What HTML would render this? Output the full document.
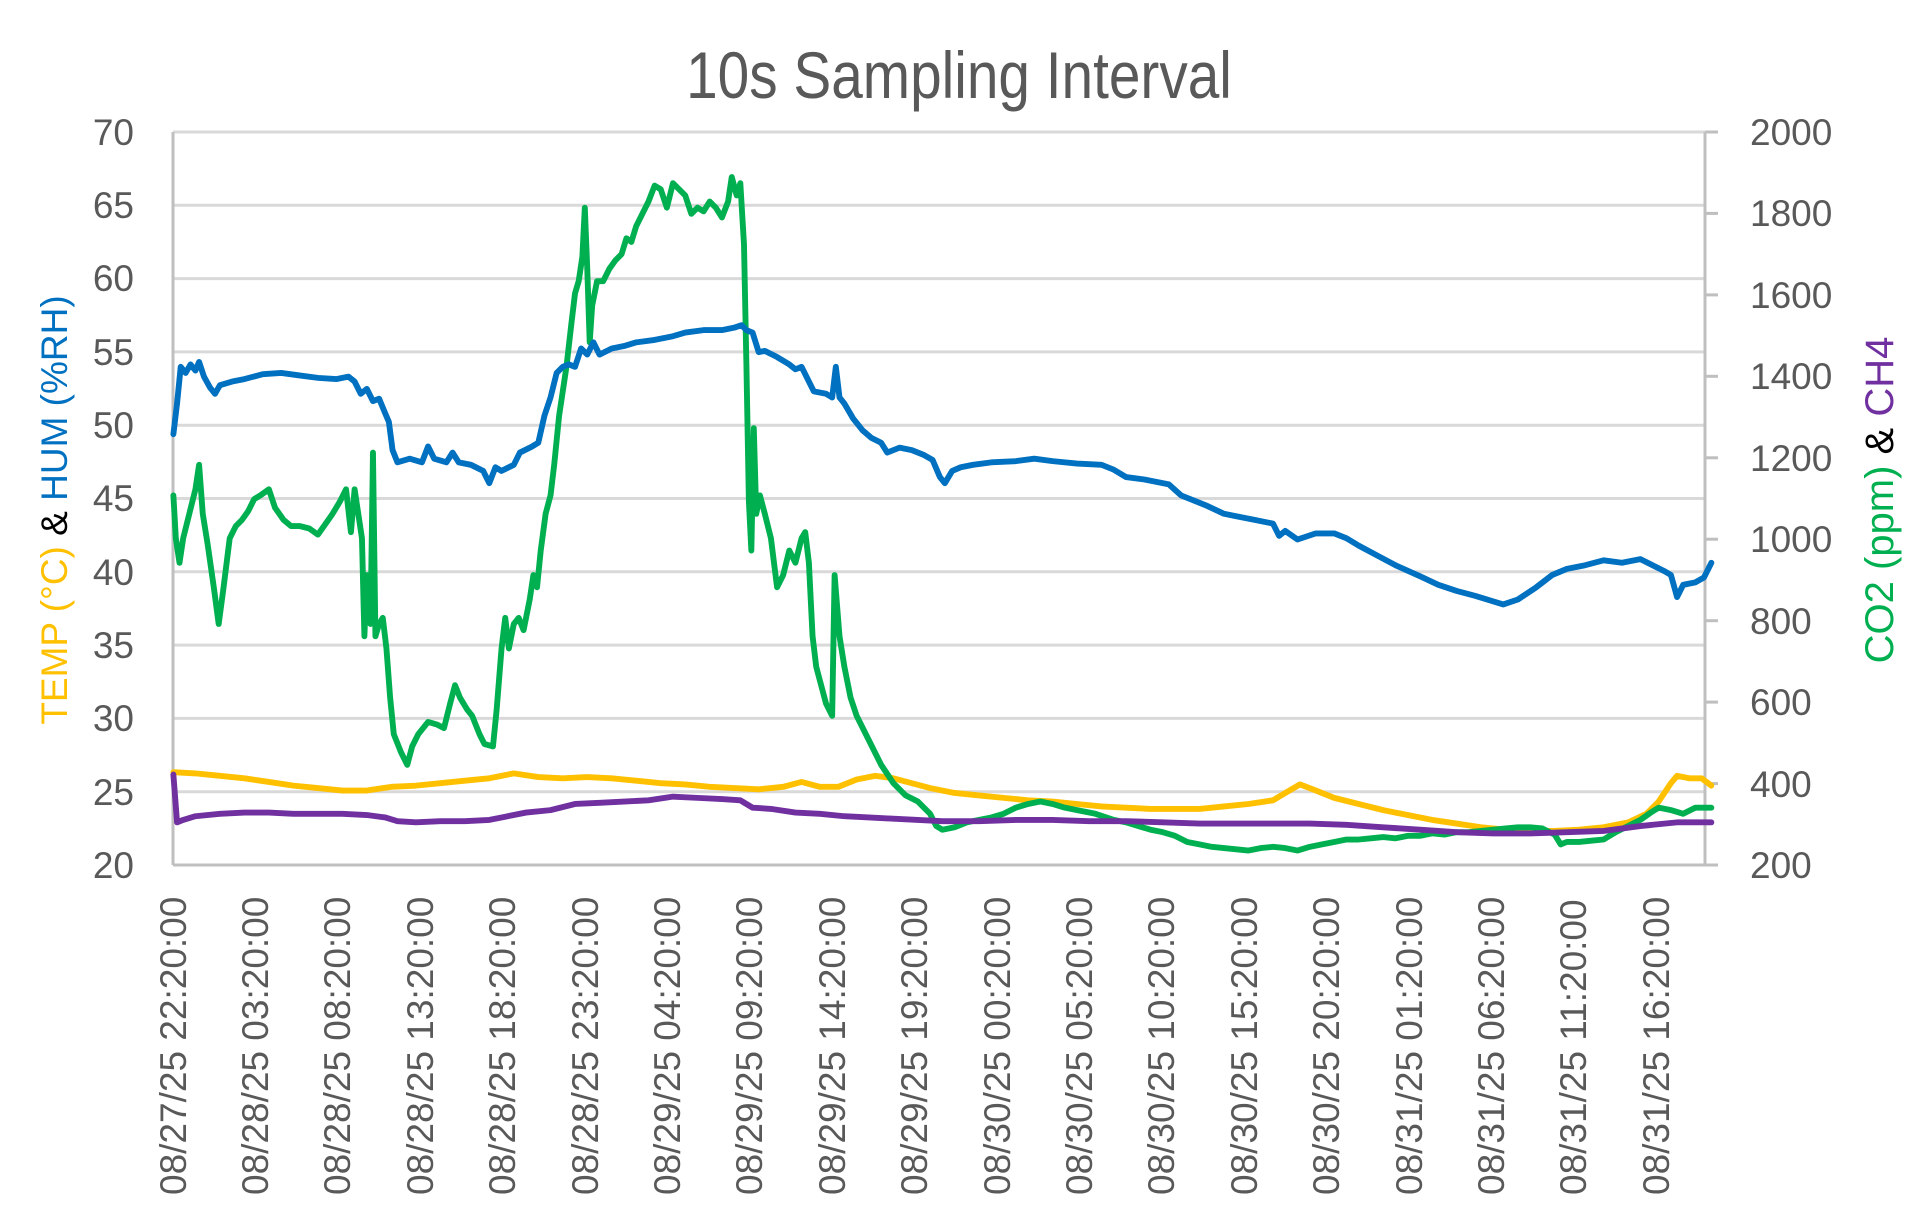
<!DOCTYPE html>
<html><head><meta charset="utf-8"><style>
html,body{margin:0;padding:0;background:#fff;}
svg{display:block;}
text{font-family:"Liberation Sans",sans-serif;fill:#595959;}
</style></head><body>
<svg width="1911" height="1223" viewBox="0 0 1911 1223" xmlns="http://www.w3.org/2000/svg">
<rect width="1911" height="1223" fill="#fff"/>
<text x="959" y="98" font-size="66" text-anchor="middle" transform="translate(959 0) scale(0.86 1) translate(-959 0)">10s Sampling Interval</text>
<g stroke="#d9d9d9" stroke-width="3">
<line x1="173" y1="132" x2="1705" y2="132"/>
<line x1="173" y1="205.3" x2="1705" y2="205.3"/>
<line x1="173" y1="278.6" x2="1705" y2="278.6"/>
<line x1="173" y1="351.9" x2="1705" y2="351.9"/>
<line x1="173" y1="425.2" x2="1705" y2="425.2"/>
<line x1="173" y1="498.5" x2="1705" y2="498.5"/>
<line x1="173" y1="571.8" x2="1705" y2="571.8"/>
<line x1="173" y1="645.1" x2="1705" y2="645.1"/>
<line x1="173" y1="718.4" x2="1705" y2="718.4"/>
<line x1="173" y1="791.7" x2="1705" y2="791.7"/>
</g>
<g stroke="#bfbfbf" stroke-width="3" fill="none">
<line x1="173" y1="132" x2="173" y2="865"/>
<line x1="1705" y1="132" x2="1705" y2="865"/>
<line x1="173" y1="865" x2="1718" y2="865"/>
<line x1="1705" y1="132" x2="1718" y2="132"/>
<line x1="1705" y1="213.4" x2="1718" y2="213.4"/>
<line x1="1705" y1="294.9" x2="1718" y2="294.9"/>
<line x1="1705" y1="376.3" x2="1718" y2="376.3"/>
<line x1="1705" y1="457.8" x2="1718" y2="457.8"/>
<line x1="1705" y1="539.2" x2="1718" y2="539.2"/>
<line x1="1705" y1="620.7" x2="1718" y2="620.7"/>
<line x1="1705" y1="702.1" x2="1718" y2="702.1"/>
<line x1="1705" y1="783.6" x2="1718" y2="783.6"/>
</g>
<g font-size="37" text-anchor="end">
<text x="134" y="145">70</text><text x="134" y="218">65</text><text x="134" y="291">60</text>
<text x="134" y="365">55</text><text x="134" y="438">50</text><text x="134" y="511">45</text>
<text x="134" y="585">40</text><text x="134" y="658">35</text><text x="134" y="731">30</text>
<text x="134" y="805">25</text><text x="134" y="878">20</text>
</g>
<g font-size="37">
<text x="1750" y="145">2000</text><text x="1750" y="226">1800</text><text x="1750" y="308">1600</text>
<text x="1750" y="389">1400</text><text x="1750" y="471">1200</text><text x="1750" y="552">1000</text>
<text x="1750" y="634">800</text><text x="1750" y="715">600</text><text x="1750" y="797">400</text>
<text x="1750" y="878">200</text>
</g>
<text transform="translate(67 510) rotate(-90)" font-size="37" text-anchor="middle"><tspan style="fill:#FFC000">TEMP (°C)</tspan><tspan style="fill:#000"> &amp; </tspan><tspan style="fill:#0070C0">HUM (%RH)</tspan></text>
<text transform="translate(1893 500) rotate(-90)" font-size="40" text-anchor="middle"><tspan style="fill:#00B050">CO2 (ppm)</tspan><tspan style="fill:#000"> &amp; </tspan><tspan style="fill:#7030A0">CH4</tspan></text>
<g font-size="37">
<text transform="translate(186 1195) rotate(-90)">08/27/25 22:20:00</text>
<text transform="translate(268 1195) rotate(-90)">08/28/25 03:20:00</text>
<text transform="translate(350 1195) rotate(-90)">08/28/25 08:20:00</text>
<text transform="translate(433 1195) rotate(-90)">08/28/25 13:20:00</text>
<text transform="translate(515 1195) rotate(-90)">08/28/25 18:20:00</text>
<text transform="translate(598 1195) rotate(-90)">08/28/25 23:20:00</text>
<text transform="translate(680 1195) rotate(-90)">08/29/25 04:20:00</text>
<text transform="translate(762 1195) rotate(-90)">08/29/25 09:20:00</text>
<text transform="translate(845 1195) rotate(-90)">08/29/25 14:20:00</text>
<text transform="translate(927 1195) rotate(-90)">08/29/25 19:20:00</text>
<text transform="translate(1010 1195) rotate(-90)">08/30/25 00:20:00</text>
<text transform="translate(1092 1195) rotate(-90)">08/30/25 05:20:00</text>
<text transform="translate(1174 1195) rotate(-90)">08/30/25 10:20:00</text>
<text transform="translate(1257 1195) rotate(-90)">08/30/25 15:20:00</text>
<text transform="translate(1339 1195) rotate(-90)">08/30/25 20:20:00</text>
<text transform="translate(1422 1195) rotate(-90)">08/31/25 01:20:00</text>
<text transform="translate(1504 1195) rotate(-90)">08/31/25 06:20:00</text>
<text transform="translate(1586 1195) rotate(-90)">08/31/25 11:20:00</text>
<text transform="translate(1669 1195) rotate(-90)">08/31/25 16:20:00</text>
</g>
<g transform="translate(-0.5 -0.5) scale(1.2245)" fill="none" stroke-width="4.8" stroke-linejoin="round" stroke-linecap="round">
<polyline stroke="#FFC000" points="142,631 160,632 180,634 200,636 220,639 240,642 260,644 280,646 300,646 320,643 340,642 360,640 380,638 400,636 420,632 440,635 460,636 480,635 500,636 520,638 540,640 560,641 580,643 600,644 620,645 640,643 655,639 670,643 685,643 700,637 715,634 730,636 745,640 760,644 780,648 800,650 820,652 840,654 860,655 880,657 900,659 920,660 940,661 960,661 980,661 1000,659 1020,657 1040,654 1050,648 1062,641 1075,646 1090,652 1110,657 1130,662 1150,666 1170,670 1190,673 1210,676 1230,678 1250,679 1270,679 1290,678 1310,676 1330,672 1345,665 1355,655 1365,640 1370,634 1380,636 1390,636 1398,642"/>
<polyline stroke="#00B050" points="142,405 144,440 147,460 150,440 155,420 160,400 163,380 166,420 170,445 175,480 179,510 183,480 188,440 193,430 198,425 203,418 208,408 213,405 220,400 225,415 232,425 238,430 245,430 253,432 260,437 265,430 272,420 278,410 283,400 287,435 290,400 293,420 296,440 298,520 300,470 303,510 305,370 307,520 310,510 313,505 316,530 319,570 322,600 328,615 333,625 337,610 342,600 350,590 357,592 363,595 368,575 372,560 376,570 382,580 386,585 392,600 396,608 403,610 406,580 410,530 413,505 416,530 420,510 424,505 428,515 433,490 436,470 439,480 442,450 446,420 450,405 453,380 457,340 460,320 463,300 467,265 470,240 473,230 476,210 478,170 480,220 482,280 484,250 488,230 493,230 498,220 503,213 508,208 512,195 516,198 520,185 525,175 530,165 535,152 540,155 545,170 550,150 555,155 560,160 565,175 570,170 575,173 580,165 585,170 590,178 595,165 598,145 602,160 605,150 608,200 610,300 612,410 614,450 616,350 618,420 621,405 625,420 630,440 635,480 640,470 645,450 650,460 655,440 658,435 661,460 664,520 667,545 671,560 675,575 680,585 682,470 686,520 690,545 695,570 700,585 710,605 720,625 730,640 740,650 750,655 760,665 765,675 770,678 780,676 790,672 800,670 810,668 820,665 830,660 840,657 850,655 860,657 870,660 880,662 895,665 910,670 920,672 930,675 940,678 950,680 960,683 970,688 980,690 990,692 1000,693 1010,694 1020,695 1030,693 1040,692 1050,693 1060,695 1070,692 1080,690 1090,688 1100,686 1110,686 1120,685 1130,684 1140,685 1150,683 1160,683 1170,681 1180,682 1190,680 1200,680 1210,679 1220,678 1230,677 1240,676 1250,676 1260,677 1270,682 1275,690 1280,688 1290,688 1300,687 1310,686 1320,680 1330,675 1340,670 1350,663 1355,660 1365,662 1375,665 1385,660 1398,660"/>
<polyline stroke="#7030A0" points="142,633 145,672 150,670 160,667 180,665 200,664 220,664 240,665 260,665 280,665 300,666 315,668 325,671 340,672 360,671 380,671 400,670 410,668 430,664 450,662 470,657 490,656 510,655 530,654 550,651 570,652 590,653 605,654 615,660 630,661 650,664 670,665 690,667 710,668 730,669 750,670 770,671 800,671 830,670 860,670 890,671 920,671 950,672 980,673 1010,673 1040,673 1070,673 1100,674 1130,676 1160,678 1190,680 1220,681 1250,681 1280,680 1310,679 1340,675 1370,672 1398,672"/>
<polyline stroke="#0070C0" points="142,355 145,330 148,300 152,305 156,298 160,303 163,296 167,308 172,317 176,322 180,315 190,312 200,310 215,306 230,305 245,307 260,309 275,310 285,308 290,312 295,322 300,318 305,328 310,326 315,338 318,345 321,368 325,378 335,375 345,378 350,365 355,375 365,378 370,370 375,378 385,380 395,385 400,395 405,382 410,385 420,380 425,370 435,365 440,362 445,340 450,325 455,305 460,300 465,298 470,300 475,285 480,290 485,280 490,290 500,285 510,283 520,280 535,278 550,275 560,272 575,270 590,270 600,268 606,266 610,270 615,272 620,288 625,287 635,292 645,298 650,302 655,300 660,310 665,320 675,322 680,325 683,300 686,325 690,330 697,342 705,352 712,358 720,362 725,370 735,366 745,368 755,372 762,376 768,390 772,395 778,385 785,382 795,380 810,378 830,377 845,375 860,377 880,379 900,380 910,384 920,390 935,392 955,396 965,405 985,413 1000,420 1010,422 1025,425 1040,428 1045,438 1050,434 1060,441 1075,436 1090,436 1100,440 1110,446 1125,454 1140,462 1160,471 1175,478 1190,483 1205,487 1215,490 1228,494 1240,490 1255,480 1268,470 1280,465 1295,462 1310,458 1325,460 1340,457 1350,462 1360,467 1365,470 1370,488 1375,478 1385,476 1392,472 1398,460"/>
</g>
</svg>
</body></html>
